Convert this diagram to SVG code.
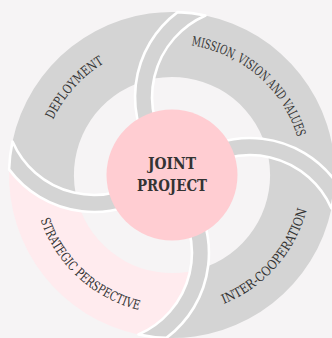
<svg xmlns="http://www.w3.org/2000/svg" xmlns:xlink="http://www.w3.org/1999/xlink" width="332" height="338" viewBox="0 0 332 338">
<style>
.band{fill:#d4d4d4}
.band.light{fill:#ffebee}
.strip{fill:#d4d4d4;stroke:#ffffff;stroke-width:2.6;stroke-linejoin:round}
.lbl{font-family:"DejaVu Serif","Liberation Serif",serif;font-size:13px;fill:#333333}
.ctr{font-family:"DejaVu Serif","Liberation Serif",serif;font-weight:bold;font-size:17px;fill:#333333;text-anchor:middle}
</style>
<defs>
<path id="bandShape" d="M205.5,15.5 A163,163 0 0 1 334.9,180.6 A106,106 0 0 0 263.1,138.8 A98,98 0 0 0 153.9,78.6 A89,89 0 0 1 205.5,15.5 Z"/>
<path id="stripShape" d="M205.5,15.5 A163,163 0 0 0 177.6,12.1 A106,106 0 0 0 159.8,165.1 L172.8,154.2 A89,89 0 0 1 205.5,15.5 Z"/>
<path id="tpDep" d="M41.06,170.89 A131,131 0 0 1 153.32,45.34"/>
<path id="tpMis" d="M162.41,44.35 A131,131 0 0 1 302.65,165.41"/>
<path id="tpInt" d="M193.03,312.40 A139,139 0 0 0 310.96,178.15"/>
<path id="tpStr" d="M33.13,181.06 A139,139 0 0 0 178.06,313.87"/>
</defs>
<rect x="0" y="0" width="332" height="338" fill="#f6f4f5"/>
<g id="mission">
<use xlink:href="#bandShape" class="band"/>
<text class="lbl"><textPath xlink:href="#tpMis" startOffset="50%" text-anchor="middle" textLength="148" lengthAdjust="spacingAndGlyphs">MISSION, VISION AND VALUES</textPath></text>
</g>
<g id="inter-cooperation">
<use xlink:href="#bandShape" class="band" transform="rotate(90 172 175)"/>
<text class="lbl"><textPath xlink:href="#tpInt" startOffset="50%" text-anchor="middle" textLength="130" lengthAdjust="spacingAndGlyphs">INTER-COOPERATION</textPath></text>
</g>
<g id="strategic-perspective">
<use xlink:href="#bandShape" class="band light" transform="rotate(180 172 175)"/>
<text class="lbl"><textPath xlink:href="#tpStr" startOffset="50%" text-anchor="middle" textLength="139" lengthAdjust="spacingAndGlyphs">STRATEGIC PERSPECTIVE</textPath></text>
</g>
<g id="deployment">
<use xlink:href="#bandShape" class="band" transform="rotate(270 172 175)"/>
<text class="lbl"><textPath xlink:href="#tpDep" startOffset="50%" text-anchor="middle" textLength="77" lengthAdjust="spacingAndGlyphs">DEPLOYMENT</textPath></text>
</g>
<g id="connectors">
<use xlink:href="#stripShape" class="strip"/>
<use xlink:href="#stripShape" class="strip" transform="rotate(90 172 175)"/>
<use xlink:href="#stripShape" class="strip" transform="rotate(180 172 175)"/>
<use xlink:href="#stripShape" class="strip" transform="rotate(270 172 175)"/>
</g>
<g id="joint-project">
<circle cx="172" cy="175" r="65.5" fill="#ffcdd2"/>
<text class="ctr" x="172" y="169.3" textLength="48" lengthAdjust="spacingAndGlyphs">JOINT</text>
<text class="ctr" x="172" y="191" textLength="70" lengthAdjust="spacingAndGlyphs">PROJECT</text>
</g>
</svg>
